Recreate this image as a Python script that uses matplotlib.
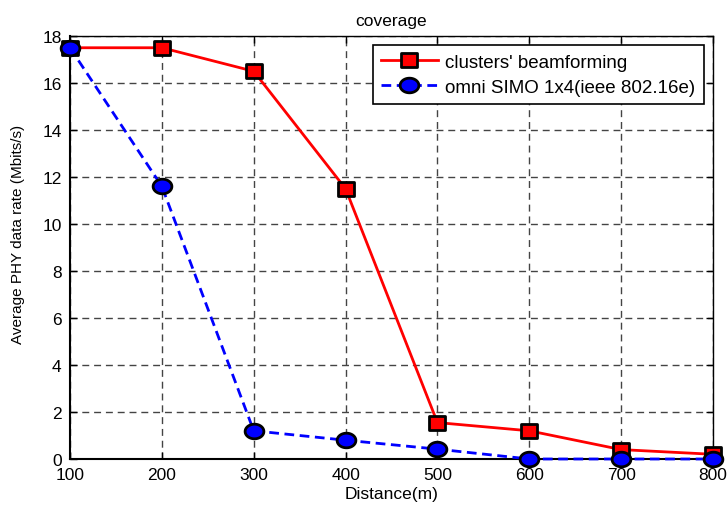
import matplotlib
matplotlib.use("Agg")
import matplotlib.pyplot as plt
import numpy as np
from matplotlib.path import Path

distance = [100, 200, 300, 400, 500, 600, 700, 800]
beamforming = [17.5, 17.5, 16.5, 11.5, 1.55, 1.2, 0.4, 0.2]
omni = [17.5, 11.6, 1.2, 0.8, 0.42, 0.0, 0.0, 0.0]
xticks = [100, 200, 300, 400, 500, 600, 700, 800]
yticks = [0, 2, 4, 6, 8, 10, 12, 14, 16, 18]

plt.rcParams['font.family'] = ['Liberation Sans', 'DejaVu Sans']

# slightly flattened marker shapes (as in the reference rendering)
t = np.linspace(0, 2 * np.pi, 60)
ellipse = Path(np.column_stack([np.cos(t), 0.78 * np.sin(t)]), closed=True)
rect = Path([(-1, -0.82), (1, -0.82), (1, 0.82), (-1, 0.82), (-1, -0.82)], closed=True)

fig = plt.figure(figsize=(7.27, 5.06), dpi=100)
ax = fig.add_axes([70/727, 46/506, 643/727, 423/506])

ax.plot(distance, beamforming, color='red', lw=2, marker=rect, ms=12,
        mfc='red', mec='black', mew=2, label="clusters' beamforming", clip_on=False, zorder=3)
ax.plot(distance, omni, color='blue', lw=2, ls=(0, (3.5, 2)), marker=ellipse, ms=13.5,
        mfc='blue', mec='black', mew=2, label="omni SIMO 1x4(ieee 802.16e)", clip_on=False, zorder=4)

ax.set_xlim(100, 800)
ax.set_ylim(0, 18)
ax.set_xticks(xticks)
ax.set_yticks(yticks)
ax.tick_params(direction='in', top=True, right=True, labelsize=12.5, length=5, width=1)
ax.tick_params(axis='x', pad=6)
ax.tick_params(axis='y', pad=6)
ax.grid(True, color='#444444', ls=(0, (5, 3.5)), lw=1)
for s in ax.spines.values():
    s.set_linewidth(1)
    s.set_color('black')
ax.spines['left'].set_linewidth(1.5)
ax.spines['bottom'].set_linewidth(1.5)

ax.set_xlabel('Distance(m)', fontsize=12.5, labelpad=3)
ax.set_ylabel('Average PHY data rate (Mbits/s)', fontsize=11)
ax.yaxis.set_label_coords(-0.070, 0.534)
ax.set_title('coverage', fontsize=12.5, pad=8)

leg = ax.legend(loc='upper right', fontsize=13.5, frameon=True, fancybox=False,
                edgecolor='black', framealpha=1, borderaxespad=0.5, handlelength=3.0,
                handletextpad=0.4, borderpad=0.45, labelspacing=0.4)
leg.get_frame().set_linewidth(1.2)

fig.savefig('out.png', dpi=100)
